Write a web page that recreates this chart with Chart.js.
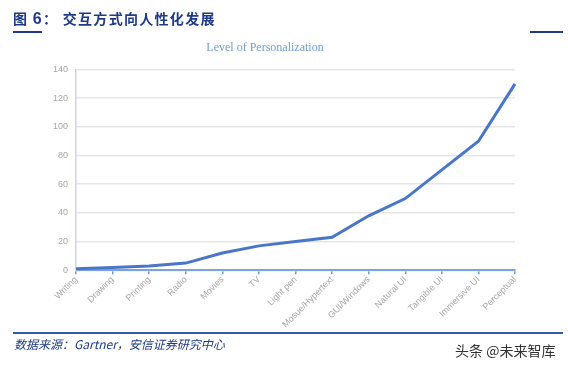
<!DOCTYPE html>
<html><head><meta charset="utf-8">
<script src="https://cdn.jsdelivr.net/npm/chart.js@4"></script>
<style>
html,body{margin:0;padding:0;background:#fff;width:568px;height:365px;overflow:hidden;position:relative;font-family:"Noto Sans CJK SC","Liberation Sans",sans-serif;}
#cv{position:absolute;left:0;top:0;}
.hd{position:absolute;left:13px;top:8px;font-size:14px;font-weight:bold;color:#1f3a8a;letter-spacing:1.3px;font-family:"Noto Sans CJK SC",sans-serif;}
.hd b{font-family:"Liberation Sans",sans-serif;font-size:16px;}
.l1{position:absolute;left:13px;top:31px;width:29px;height:2px;background:#1f3a8a;}
.l2{position:absolute;left:530px;top:31px;width:33px;height:2px;background:#1f3a8a;}
.ct{position:absolute;left:0;width:530px;top:40px;text-align:center;font-family:"Liberation Serif","DejaVu Serif",serif;font-size:12px;color:#6e9fd8;}
.l3{position:absolute;left:13px;top:332px;width:550px;height:2px;background:#2f5aa8;}
.src{position:absolute;left:14px;top:335px;font-size:12px;font-style:italic;color:#1f3a8a;}
.wm{position:absolute;left:455px;top:340px;font-size:14px;color:#333;}
</style></head><body>
<canvas id="cv" width="568" height="365"></canvas>
<div class="hd">图 <b>6</b>：&nbsp;交互方式向人性化发展</div>
<div class="l1"></div><div class="l2"></div>
<div class="ct">Level of Personalization</div>
<div class="l3"></div>
<div class="src">数据来源：Gartner，安信证券研究中心</div>
<div class="wm">头条 @未来智库</div>
<script>
const categories = ["Writing","Drawing","Printing","Radio","Movies","TV","Light pen","Mosue/Hypertext","GUI/Windows","Natural UI","Tangible UI","Immersive UI","Perceptual"];
const personalization = [1,2,3,5,12,17,20,23,38,50,70,90,130];
const yTicks = [0,20,40,60,80,100,120,140];

new Chart(document.getElementById('cv'), {
  type: 'line',
  data: { labels: categories, datasets: [{ data: personalization, borderColor: '#4a76c9', borderWidth: 3, pointRadius: 0, tension: 0, fill: false }] },
  options: {
    responsive: false, animation: false,
    layout: { padding: { left: 45, top: 69.5, right: 53, bottom: 35 } },
    plugins: { legend: { display: false }, title: { display: false }, tooltip: { enabled: false } },
    scales: {
      x: {
        offset: false,
        grid: { drawOnChartArea: false, drawTicks: true, tickLength: 4, color: '#6f95d6', lineWidth: 1.5 },
        border: { color: '#7fa2de', width: 2 },
        ticks: { color: '#a6a6a6', font: { family: 'Liberation Sans', size: 9 }, minRotation: 45, maxRotation: 45, autoSkip: false, padding: 0 }
      },
      y: {
        min: 0, max: 140,
        afterBuildTicks: (ax) => { ax.ticks = yTicks.map(v => ({ value: v })); },
        grid: { color: '#e6e6e6', lineWidth: 1.5, drawTicks: false },
        border: { color: '#c5d6f0', width: 1.5 },
        ticks: { color: '#a6a6a6', font: { family: 'Liberation Sans', size: 9 }, padding: 8 }
      }
    }
  }
});
</script>
</body></html>
